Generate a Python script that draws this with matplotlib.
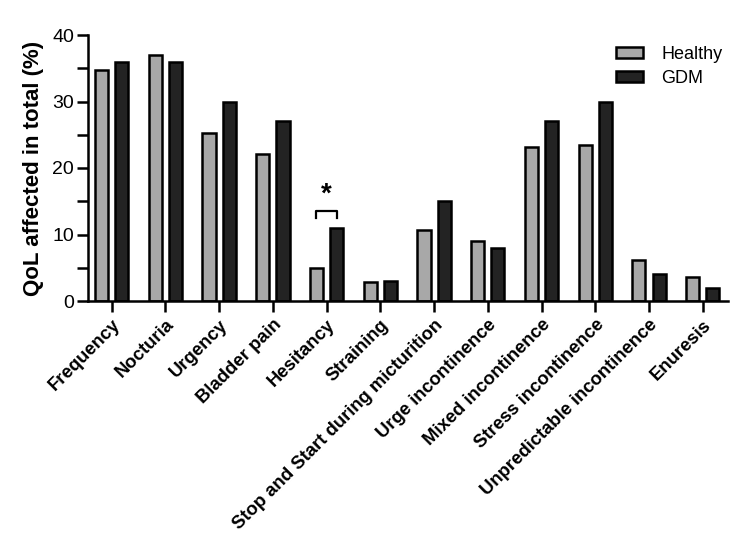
import numpy as np
import matplotlib.pyplot as plt
from matplotlib.ticker import MultipleLocator

categories = ["Frequency", "Nocturia", "Urgency", "Bladder pain", "Hesitancy",
              "Straining", "Stop and Start during micturition", "Urge incontinence",
              "Mixed incontinence", "Stress incontinence",
              "Unpredictable incontinence", "Enuresis"]
healthy = [34.7, 37.0, 25.2, 22.1, 5.0, 2.9, 10.7, 9.0, 23.1, 23.5, 6.1, 3.6]
gdm = [36.0, 36.0, 30.0, 27.0, 11.0, 3.0, 15.0, 8.0, 27.0, 30.0, 4.0, 2.0]

plt.rcParams['font.family'] = ['Liberation Sans', 'DejaVu Sans']

fig = plt.figure(figsize=(7.5, 5.55), dpi=100)
ax = fig.add_axes([88 / 750, 1 - 301 / 555, (728 - 88) / 750, (301 - 35) / 555])

x = np.arange(len(categories))
off = 0.188
w = 0.245
ax.bar(x - off, healthy, w, color='#a8a8a8', edgecolor='black', linewidth=1.8, label='Healthy')
ax.bar(x + off, gdm, w, color='#232323', edgecolor='black', linewidth=1.8, label='GDM')

# significance bracket over Hesitancy
i = categories.index("Hesitancy")
ax.plot([i - off, i - off, i + off, i + off], [12.5, 13.6, 13.6, 12.5],
        color='black', lw=1.6, clip_on=False)
ax.text(i, 14.0, '*', ha='center', va='bottom', fontsize=20, fontweight='bold')

ax.set_xlim(-0.44, 11.47)
ax.set_ylim(0, 40)
ax.yaxis.set_major_locator(MultipleLocator(10))
ax.yaxis.set_minor_locator(MultipleLocator(5))
ax.set_xticks(x)
ax.set_xticklabels(categories, rotation=45, ha='right', rotation_mode='anchor',
                   fontsize=13.3, fontweight='bold')
ax.tick_params(axis='y', which='both', direction='out', length=8, width=1.8, labelsize=14, pad=2)
ax.tick_params(axis='x', direction='out', length=8, width=1.8, pad=3)
ax.set_ylabel('QoL affected in total (%)', fontsize=16, fontweight='bold', labelpad=6)

for s in ['top', 'right']:
    ax.spines[s].set_visible(False)
for s in ['left', 'bottom']:
    ax.spines[s].set_linewidth(1.8)

ax.legend(loc='upper left', bbox_to_anchor=(0.8, 1.02), frameon=False, fontsize=13,
          handlelength=1.5, handleheight=0.5, labelspacing=0.38, handletextpad=1.0)

fig.savefig('out.png', dpi=100)
